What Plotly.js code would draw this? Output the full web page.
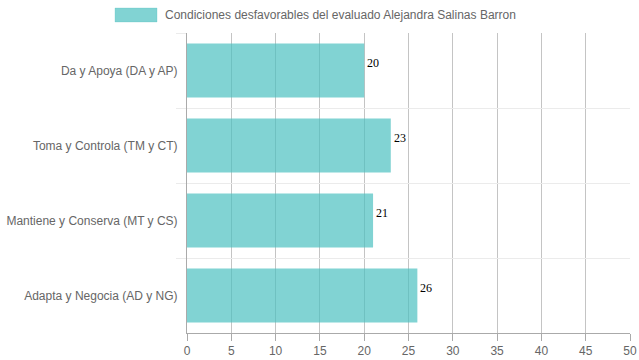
<!DOCTYPE html>
<html>
<head>
<meta charset="utf-8">
<script src="https://cdn.plot.ly/plotly-3.0.1.min.js"></script>
<style>html,body{margin:0;padding:0;background:#fff;}#chart{width:639px;height:360px;}</style>
</head>
<body>
<div id="chart"></div>
<script>
const categories = ["Da y Apoya (DA y AP)", "Toma y Controla (TM y CT)", "Mantiene y Conserva (MT y CS)", "Adapta y Negocia (AD y NG)"];
const values = [20, 23, 21, 26];
const seriesName = "Condiciones desfavorables del evaluado Alejandra Salinas Barron";
const xTicks = [0, 5, 10, 15, 20, 25, 30, 35, 40, 45, 50];

const fill = "rgba(75,192,192,0.7)";
const font = "Arial, 'Liberation Sans', Helvetica, sans-serif";

const trace = {
  type: "bar",
  orientation: "h",
  x: values,
  y: categories,
  marker: {color: fill, line: {width: 0}},
  hoverinfo: "x+y",
  showlegend: false
};

const labelAnnotations = values.map((v, i) => ({
  x: v, y: categories[i], xref: "x", yref: "y",
  text: String(v), showarrow: false,
  xanchor: "left", yanchor: "middle", xshift: 1, yshift: 8,
  font: {family: "'Liberation Serif', 'Times New Roman', serif", size: 12, color: "#000"}
}));

const layout = {
  width: 639, height: 360,
  margin: {l: 187, r: 9, t: 33, b: 27, pad: 0},
  paper_bgcolor: "#fff", plot_bgcolor: "#fff",
  bargap: 0.28,
  font: {family: font, size: 12, color: "#666"},
  xaxis: {
    range: [0, 50], tickvals: xTicks, ticktext: xTicks.map(String),
    showgrid: true, gridcolor: "#c4c4c4", gridwidth: 1,
    zeroline: false, showline: true, linecolor: "#aaa", linewidth: 1,
    ticks: "outside", ticklen: 7, tickcolor: "#aaa",
    tickfont: {family: font, size: 12, color: "#666"}, fixedrange: true
  },
  yaxis: {
    type: "category", categoryorder: "array", categoryarray: categories,
    autorange: "reversed", tickson: "boundaries",
    showgrid: true, gridcolor: "#ebebeb", gridwidth: 1,
    zeroline: false, showline: true, linecolor: "#aaa", linewidth: 1,
    ticks: "outside", ticklen: 10, tickcolor: "#ebebeb", ticklabelstandoff: 6,
    tickfont: {family: font, size: 12, color: "#666"}, fixedrange: true
  },
  shapes: [{
    type: "rect", xref: "paper", yref: "paper",
    x0: -0.1625, x1: -0.0677, y0: 1.0367, y1: 1.0833,
    fillcolor: fill, line: {color: "rgba(75,192,192,0.25)", width: 1}
  }],
  annotations: labelAnnotations.concat([{
    xref: "paper", yref: "paper", x: -0.0542, y: 1.06,
    xanchor: "left", yanchor: "middle", showarrow: false,
    text: seriesName, font: {family: font, size: 12, color: "#666"}
  }])
};

Plotly.newPlot("chart", [trace], layout, {displayModeBar: false, responsive: false});
</script>
</body>
</html>
